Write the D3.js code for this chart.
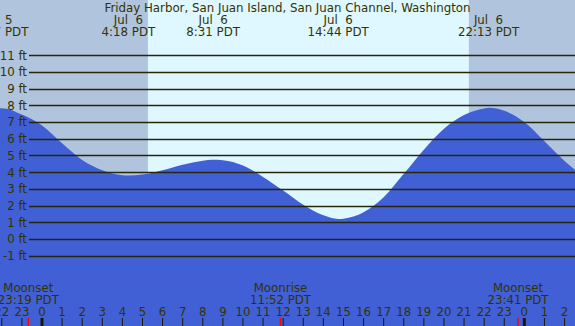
<!DOCTYPE html>
<html>
<head>
<meta charset="utf-8">
<script src="https://cdnjs.cloudflare.com/ajax/libs/d3/7.8.5/d3.min.js"></script>
<style>
    body { margin: 0; background: #fff; }
    svg { display: block; }
    text { font-family: "DejaVu Sans", sans-serif; font-size: 11.8px; fill: #333300; white-space: pre; }
</style>
</head>
<body>
<div id="chart"></div>
<script>
// tide height readings, hours counted from Jul 6 00:00 PDT
var tideHours = [-2.09, -2, -1, 0, 1, 2, 3, 4, 4.3, 5, 6, 7, 8, 8.5, 9, 10, 11, 12, 13, 14, 14.74, 15, 16, 17, 18, 19, 20, 21, 22, 22.25, 23, 24, 25, 26, 26.52];
var tideFeet  = [7.83, 7.83, 7.45, 6.8, 5.73, 4.73, 4.12, 3.82, 3.8, 3.86, 4.12, 4.45, 4.68, 4.74, 4.72, 4.4, 3.72, 2.9, 2.05, 1.42, 1.2, 1.22, 1.6, 2.5, 3.9, 5.35, 6.6, 7.42, 7.82, 7.86, 7.68, 7.0, 5.85, 4.67, 4.15];

// high / low tide labels along the top
var extremeHours = [-2.2, 4.3, 8.517, 14.733, 22.217];
var extremeDates = ["Jul  5", "Jul  6", "Jul  6", "Jul  6", "Jul  6"];
var extremeTimes = ["21:47 PDT", "4:18 PDT", "8:31 PDT", "14:44 PDT", "22:13 PDT"];

// moon events along the bottom
var moonHours = [-0.683, 11.867, 23.683];
var moonNames = ["Moonset", "Moonrise", "Moonset"];
var moonTimes = ["23:19 PDT", "11:52 PDT", "23:41 PDT"];

var sunHours = [5.27, 21.24];   // sunrise, sunset
var feetTicks = [-1, 0, 1, 2, 3, 4, 5, 6, 7, 8, 9, 10, 11];
var hourTicks = d3.range(-2, 27);
var title = "Friday Harbor, San Juan Island, San Juan Channel, Washington";

(function(){

    var width = 575, height = 326;

    function createChart(){
        var svg = d3.select("#chart").append("svg")
            .attr("width", width)
            .attr("height", height);

        var x = d3.scaleLinear().domain([-2.09, 26.52]).range([0, width]);
        var y = d3.scaleLinear().domain([0, 11]).range([239, 55.3]);

        //night background, then the daylight band
        svg.append("rect")
            .attr("width", width).attr("height", height)
            .attr("fill", "#b0c4de");
        svg.append("rect")
            .attr("x", x(sunHours[0]))
            .attr("width", x(sunHours[1]) - x(sunHours[0]))
            .attr("height", height)
            .attr("fill", "#dff7ff");

        //water
        var area = d3.area()
            .x(function(d, i){ return x(tideHours[i]); })
            .y0(height)
            .y1(function(d){ return y(d); })
            .curve(d3.curveMonotoneX);
        svg.append("path")
            .datum(tideFeet)
            .attr("d", area)
            .attr("fill", "#4160d5");

        //foot gridlines and labels
        var grid = svg.append("g");
        grid.selectAll("line")
            .data(feetTicks)
            .enter()
            .append("line")
            .attr("x1", 29).attr("x2", width)
            .attr("y1", function(d){ return Math.round(y(d)) + 0.5; })
            .attr("y2", function(d){ return Math.round(y(d)) + 0.5; })
            .attr("stroke", "#262608")
            .attr("stroke-width", 1.3);
        grid.selectAll("text")
            .data(feetTicks)
            .enter()
            .append("text")
            .attr("x", 27)
            .attr("y", function(d){ return y(d); })
            .attr("dy", "0.37em")
            .attr("text-anchor", "end")
            .text(function(d){ return d + " ft"; });

        //title and tide extremes
        svg.append("text")
            .attr("x", width / 2).attr("y", 12)
            .attr("text-anchor", "middle")
            .text(title);
        var ext = svg.append("g").selectAll("g")
            .data(extremeHours)
            .enter()
            .append("g");
        ext.append("text")
            .attr("x", function(d){ return x(d); })
            .attr("y", 24)
            .attr("text-anchor", "middle")
            .text(function(d, i){ return extremeDates[i]; });
        ext.append("text")
            .attr("x", function(d){ return x(d); })
            .attr("y", 36)
            .attr("text-anchor", "middle")
            .text(function(d, i){ return extremeTimes[i]; });

        //moon events
        var moon = svg.append("g").selectAll("g")
            .data(moonHours)
            .enter()
            .append("g");
        moon.append("text")
            .attr("x", function(d){ return x(d); })
            .attr("y", 292)
            .attr("text-anchor", "middle")
            .text(function(d, i){ return moonNames[i]; });
        moon.append("text")
            .attr("x", function(d){ return x(d); })
            .attr("y", 304)
            .attr("text-anchor", "middle")
            .text(function(d, i){ return moonTimes[i]; });
        moon.append("line")
            .attr("x1", function(d){ return x(d); })
            .attr("x2", function(d){ return x(d); })
            .attr("y1", 318).attr("y2", height)
            .attr("stroke", "red")
            .attr("stroke-width", 1.5);

        //hour ticks
        var hrs = svg.append("g").selectAll("g")
            .data(hourTicks)
            .enter()
            .append("g");
        hrs.append("line")
            .attr("x1", function(d){ return x(d); })
            .attr("x2", function(d){ return x(d); })
            .attr("y1", 318).attr("y2", height)
            .attr("stroke", "#1a1a00")
            .attr("stroke-width", function(d){ return d % 24 === 0 ? 3 : 1; });
        hrs.append("text")
            .attr("x", function(d){ return x(d); })
            .attr("y", 316)
            .attr("text-anchor", "middle")
            .text(function(d){ return ((d % 24) + 24) % 24; });
    };

    createChart();
})();
</script>
</body>
</html>
